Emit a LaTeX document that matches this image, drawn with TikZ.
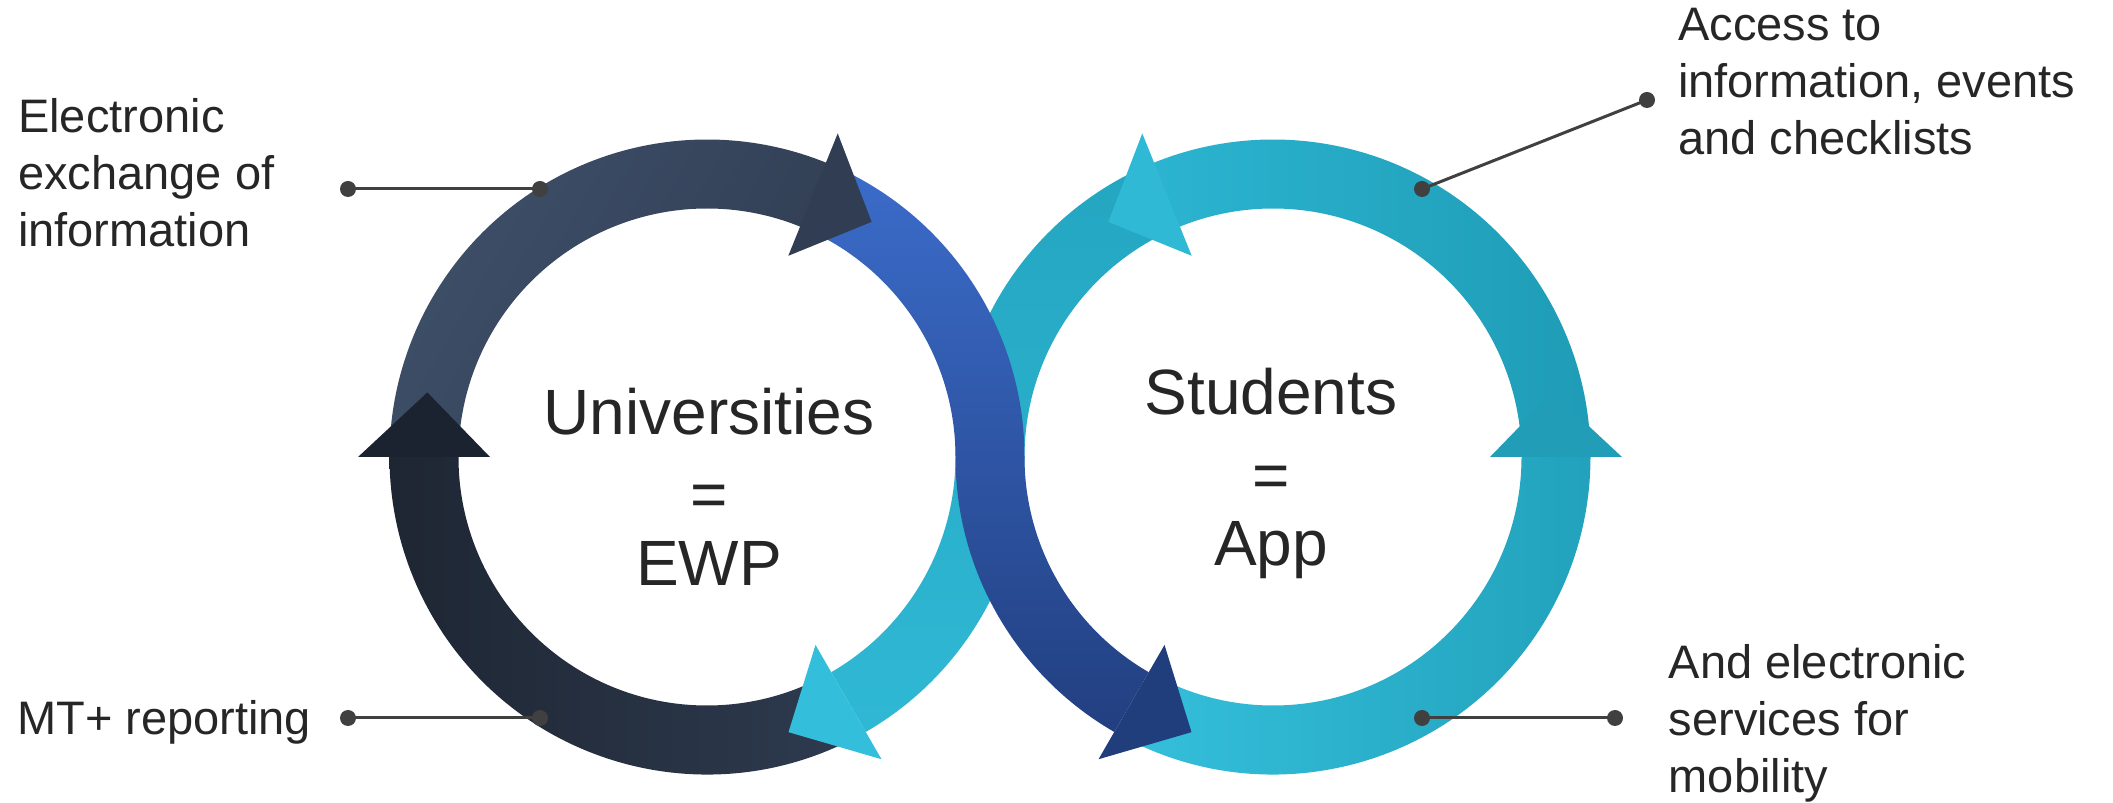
\documentclass[tikz,border=0pt]{standalone}
\usepackage{fontspec}
\setmainfont{Liberation Sans}
\definecolor{txt}{HTML}{262626}
\definecolor{lineg}{HTML}{404040}
\definecolor{dkUL}{HTML}{3E4F69}
\definecolor{dkUR}{HTML}{313E53}
\definecolor{dkLL}{HTML}{1E2633}
\definecolor{dkLR}{HTML}{2E3B4F}
\definecolor{dkHead}{HTML}{303D52}
\definecolor{dkHeadL}{HTML}{1C2330}
\definecolor{blT}{HTML}{3B6CCA}
\definecolor{blB}{HTML}{223F80}
\definecolor{blHead}{HTML}{203D7C}
\definecolor{cyT}{HTML}{24A6C1}
\definecolor{cyM}{HTML}{2CB4D0}
\definecolor{cyB}{HTML}{2FB8D4}
\definecolor{cyHeadL}{HTML}{33BFDB}
\definecolor{cyHeadT}{HTML}{2FB9D5}
\definecolor{cyHeadR}{HTML}{219DB7}
\definecolor{cyRUL}{HTML}{2BB4D0}
\definecolor{cyRUR}{HTML}{1F9CB6}
\definecolor{cyRLL}{HTML}{35C0DC}
\definecolor{cyRLR}{HTML}{22A2BC}
% band: center, start angle, end angle
\newcommand\ringband[3]{([shift={(#2:317.5pt)}]#1) arc[start angle=#2, end angle=#3, radius=317.5pt] -- ([shift={(#3:248.5pt)}]#1) arc[start angle=#3, end angle=#2, radius=248.5pt] -- cycle}
% head: center, base angle, tip angle
\newcommand\headtri[3]{([shift={(#2:217pt)}]#1) -- ([shift={(#2:349pt)}]#1) -- ([shift={(#3:287pt)}]#1) -- cycle}
\begin{document}
\begin{tikzpicture}[x=1pt,y=1pt,
  dot/.style={circle,fill=lineg,inner sep=0pt,minimum size=16pt},
  conn/.style={draw=lineg,line width=3pt},
  lbl/.style={font=\fontsize{47}{57}\selectfont,text=txt,align=left,anchor=base west,inner sep=0pt},
  ctr/.style={font=\fontsize{64}{75.5}\selectfont,text=txt,align=center,anchor=base,inner sep=0pt}]
\useasboundingbox (0,0) rectangle (2113,803);
\coordinate (L) at (707,346);
\coordinate (R) at (1273,346);
% ring bands
\shade[left color=cyRLL, right color=cyRLR] \ringband{R}{241}{360};
\shade[left color=cyRUL, right color=cyRUR] \ringband{R}{0}{113};
\shade[left color=dkUL, right color=dkUR, shading angle=60] \ringband{L}{180}{67};
\shade[left color=dkLL, right color=dkLR] \ringband{L}{299}{180};
% cyan S
\shade[top color=cyT, middle color=cyM, bottom color=cyB]
  ([shift={(115:317.5pt)}]R) arc[start angle=115, end angle=180, radius=317.5pt]
  arc[start angle=0, end angle=-60, radius=248.5pt]
  -- ([shift={(-60:317.5pt)}]L) arc[start angle=-60, end angle=0, radius=317.5pt]
  arc[start angle=180, end angle=115, radius=248.5pt] -- cycle;
\fill[cyHeadL] \headtri{L}{300}{286.5};
% blue S
\shade[top color=blT, bottom color=blB]
  ([shift={(65:317.5pt)}]L) arc[start angle=65, end angle=0, radius=317.5pt]
  arc[start angle=180, end angle=240, radius=248.5pt]
  -- ([shift={(240:317.5pt)}]R) arc[start angle=240, end angle=180, radius=317.5pt]
  arc[start angle=0, end angle=65, radius=248.5pt] -- cycle;
\fill[blHead] \headtri{R}{240}{253.5};
% remaining heads
\fill[dkHead] \headtri{L}{68}{55};
\fill[cyHeadT] \headtri{R}{112}{125};
\fill[dkHeadL] \headtri{L}{180}{167};
\fill[cyHeadR] \headtri{R}{0}{13};
% centre texts
\node[ctr] (uni) at (709,217.7) {Universities\\\raisebox{-7pt}{=}\\EWP};
\node[ctr] (stu) at (1271,237.4) {Students\\\raisebox{-7pt}{=}\\App};
% labels
\node[lbl] (l1) at (18,556.3) {Electronic\\exchange of\\information};
\node[lbl] (l2) at (17,68) {MT+ reporting};
\node[lbl] (l3) at (1678,648) {Access to\\information, events\\and checklists};
\node[lbl] (l4) at (1668.5,10) {And electronic\\services for\\mobility};
% connectors
\node[dot] (d1a) at (348,614) {};
\node[dot] (d1b) at (540,614) {};
\node[dot] (d2a) at (348,85) {};
\node[dot] (d2b) at (540,85) {};
\node[dot] (d3a) at (1422,614) {};
\node[dot] (d3b) at (1647,703) {};
\node[dot] (d4a) at (1422,85) {};
\node[dot] (d4b) at (1615,85) {};
\draw[conn] (d1a.center) -- (d1b.center);
\draw[conn] (d2a.center) -- (d2b.center);
\draw[conn] (d3a.center) -- (d3b.center);
\draw[conn] (d4a.center) -- (d4b.center);
\end{tikzpicture}
\end{document}
